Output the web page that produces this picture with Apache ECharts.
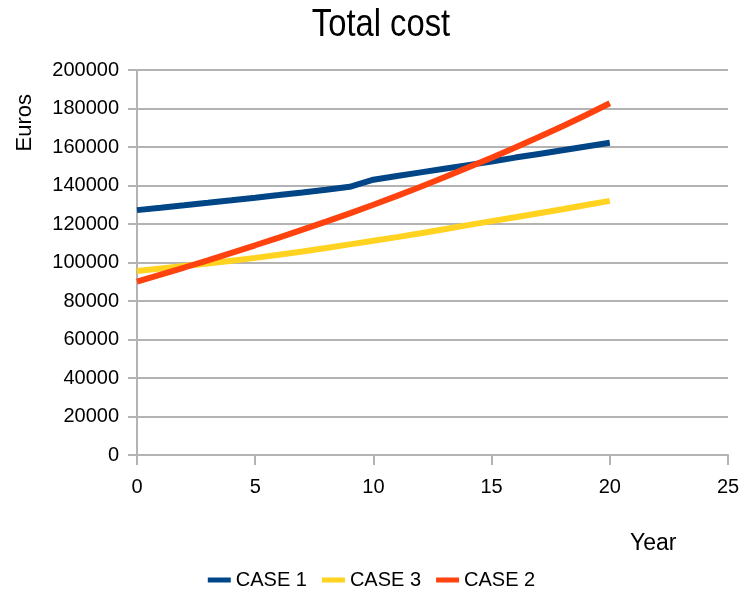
<!DOCTYPE html>
<html>
<head>
<meta charset="utf-8">
<script src="https://cdn.jsdelivr.net/npm/echarts@6/dist/echarts.min.js"></script>
<style>html,body{margin:0;padding:0;background:#fff;}#c{width:743px;height:591px;}</style>
</head>
<body>
<div id="c"></div>
<script>
const years = [0,1,2,3,4,5,6,7,8,9,10,11,12,13,14,15,16,17,18,19,20];
const case1 = [127200,128450,129720,131010,132320,133660,135020,136410,137830,139300,143000,144900,146800,148700,150600,152500,154500,156400,158300,160300,162200];
const case3 = [95600,96900,98200,99500,100900,102400,104000,105700,107500,109400,111300,113200,115200,117300,119400,121500,123500,125600,127700,129850,132000];
const case2 = [90100,93700,97400,101150,105000,108950,112950,117050,121250,125550,130000,134600,139350,144250,149300,154450,159750,165200,170800,176650,182700];
const seriesNames = ['CASE 1','CASE 3','CASE 2'];
const colors = ['#004586','#ffd320','#ff420e'];
const titleText = 'Total cost';
const xName = 'Year';
const yName = 'Euros';

const pairs = arr => years.map((y,i)=>[y,arr[i]]);
const font = 'Liberation Sans, Arial, sans-serif';
const chart = echarts.init(document.getElementById('c'));
chart.setOption({
  animation:false,
  backgroundColor:'#ffffff',
  legend:{top:565,left:'center',itemWidth:23,itemHeight:5,itemGap:15,icon:'rect',
    data:seriesNames,
    textStyle:{fontFamily:font,fontSize:20,color:'#000'}},
  grid:{left:137,right:15,top:70,bottom:136,containLabel:false},
  xAxis:{type:'value',min:0,max:25,interval:5,
    axisLine:{show:true,lineStyle:{color:'#b3b3b3',width:2}},
    axisTick:{show:true,length:10,lineStyle:{color:'#b3b3b3',width:2}},
    splitLine:{show:false},
    axisLabel:{margin:22,fontFamily:font,fontSize:20,color:'#000'}},
  yAxis:{type:'value',min:0,max:200000,interval:20000,
    axisLine:{show:true,lineStyle:{color:'#b3b3b3',width:2}},
    axisTick:{show:true,length:9,lineStyle:{color:'#b3b3b3',width:2}},
    splitLine:{show:true,lineStyle:{color:'#b3b3b3',width:2}},
    axisLabel:{margin:18,fontFamily:font,fontSize:20,color:'#000',formatter:v=>String(v)}},
  graphic:[
    {type:'text',x:381,y:6,scaleX:0.84,
      style:{text:titleText,font:'39px '+font,fill:'#000',textAlign:'center',textVerticalAlign:'top'}},
    {type:'text',left:14,top:94,rotation:Math.PI/2,
      style:{text:yName,font:'22px '+font,fill:'#000'}},
    {type:'text',left:630,top:532,
      style:{text:xName,font:'23px '+font,fill:'#000'}}
  ],
  series:[
    {name:seriesNames[0],type:'line',data:pairs(case1),showSymbol:false,symbol:'none',lineStyle:{width:6,color:colors[0]},itemStyle:{color:colors[0]}},
    {name:seriesNames[1],type:'line',data:pairs(case3),showSymbol:false,symbol:'none',lineStyle:{width:6,color:colors[1]},itemStyle:{color:colors[1]}},
    {name:seriesNames[2],type:'line',data:pairs(case2),showSymbol:false,symbol:'none',lineStyle:{width:6,color:colors[2]},itemStyle:{color:colors[2]}}
  ]
});
</script>
</body>
</html>
